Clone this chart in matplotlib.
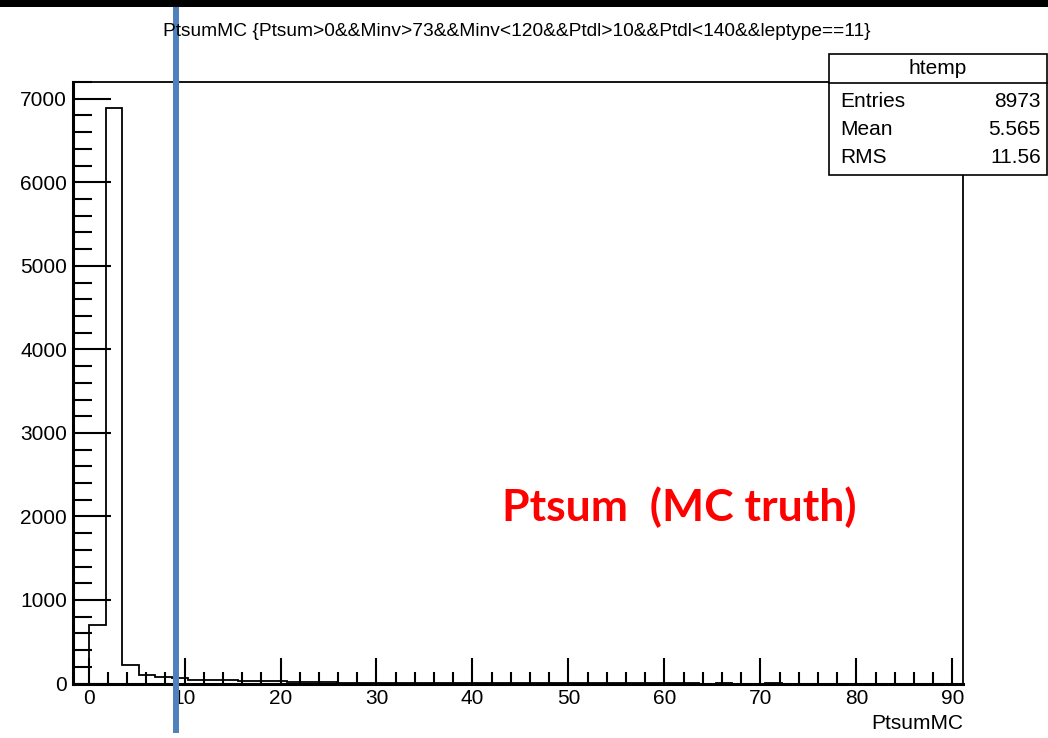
import numpy as np
import matplotlib.pyplot as plt
from matplotlib.patches import Rectangle
from matplotlib.ticker import MultipleLocator

# histogram contents (ROOT htemp, PtsumMC)
bin_lo = -1.65
bin_hi = 91.15
n_bins = 54
counts = [0, 697, 6890, 227, 108, 80, 68, 48, 42, 38, 30, 32, 28, 24, 20,
          15, 12, 12, 10, 10, 10, 9, 10, 8, 9, 6, 5, 4, 3, 3, 2, 2, 2, 1,
          1, 1, 1, 1, 0, 1, 0, 0, 1, 0, 0, 0, 0, 0, 0, 0, 0, 0, 0, 0]

title = "PtsumMC {Ptsum>0&&Minv>73&&Minv<120&&Ptdl>10&&Ptdl<140&&leptype==11}"
stats_rows = [("Entries", "8973"), ("Mean", "5.565"), ("RMS", "11.56")]
cut_value = 9.1

plt.rcParams["font.family"] = ["Liberation Sans", "DejaVu Sans"]

fig = plt.figure(figsize=(10.48, 7.38), dpi=100)
ax = fig.add_axes([0.0694, 0.0738, 0.8498, 0.815])

edges = np.linspace(bin_lo, bin_hi, n_bins + 1)
ax.stairs(counts, edges, color="black", linewidth=1.3)

ax.set_xlim(bin_lo, bin_hi)
ax.set_ylim(0, 7200)
ax.xaxis.set_major_locator(MultipleLocator(10))
ax.xaxis.set_minor_locator(MultipleLocator(2))
ax.yaxis.set_major_locator(MultipleLocator(1000))
ax.yaxis.set_minor_locator(MultipleLocator(200))
ax.tick_params(axis="x", which="major", direction="in", length=19, width=1.5,
               labelsize=15, pad=4, top=False)
ax.tick_params(axis="x", which="minor", direction="in", length=9, width=1.5, top=False)
ax.tick_params(axis="y", which="major", direction="in", length=27, width=1.5,
               labelsize=15, pad=4, right=False)
ax.tick_params(axis="y", which="minor", direction="in", length=14, width=1.5, right=False)
for s in ax.spines.values():
    s.set_linewidth(1.3)
ax.spines["bottom"].set_linewidth(2.2)
ax.spines["left"].set_linewidth(2.2)

ax.set_xlabel("PtsumMC", fontsize=15, loc="right", labelpad=4)

fig.text(0.493, 0.957, title, fontsize=13.8, ha="center", va="center")

# stats box
box = Rectangle((0.791, 0.763), 0.208, 0.164, transform=fig.transFigure,
                facecolor="white", edgecolor="black", linewidth=1.2, zorder=5)
fig.patches.append(box)
fig.add_artist(plt.Line2D([0.791, 0.999], [0.887, 0.887], transform=fig.transFigure,
                          color="black", linewidth=1.2, zorder=6))
fig.text(0.895, 0.907, "htemp", fontsize=15, ha="center", va="center", zorder=7)
for i, (name, val) in enumerate(stats_rows):
    y = 0.862 - i * 0.038
    fig.text(0.802, y, name, fontsize=15, ha="left", va="center", zorder=7)
    fig.text(0.993, y, val, fontsize=15, ha="right", va="center", zorder=7)

# black band at the top of the slide
fig.patches.append(Rectangle((0, 0.99), 1, 0.01, transform=fig.transFigure,
                             facecolor="black", edgecolor="none"))

ax.text(0.479, 0.313, "Ptsum  (MC truth)", transform=fig.transFigure,
        fontsize=32, fontweight="bold", color="#ff0000", family="Lato",
        ha="left", va="center")

ax.axvline(cut_value, ymin=-0.077, ymax=1.14, clip_on=False,
           color="#4f81bd", linewidth=4.3, zorder=10)

fig.savefig("out.png", dpi=100)
